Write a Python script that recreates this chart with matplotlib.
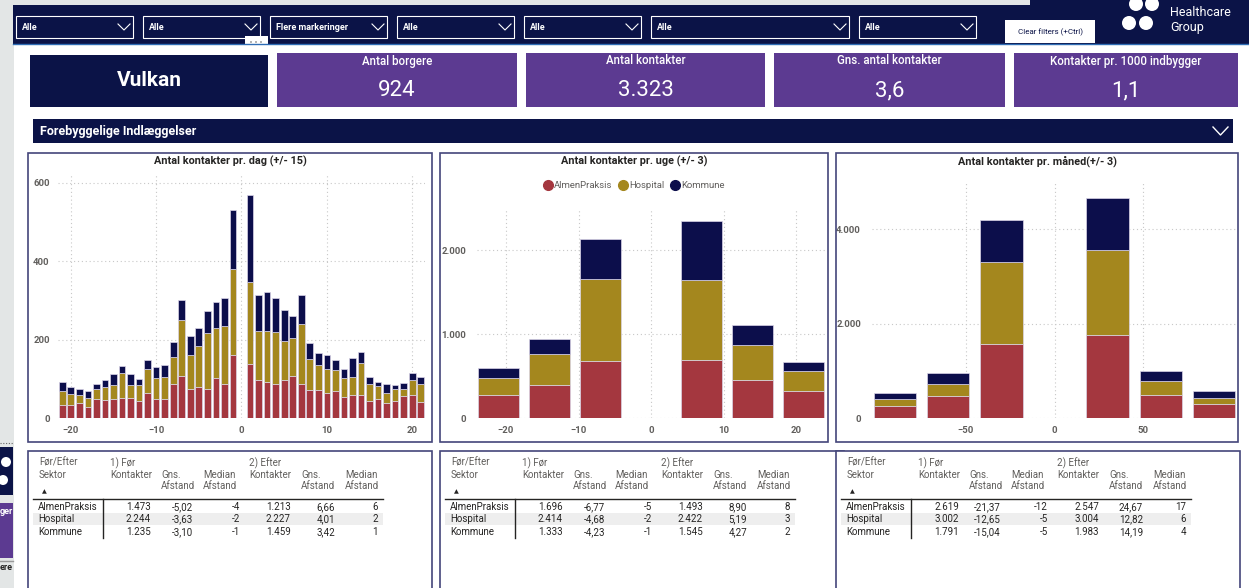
import numpy as np
import matplotlib
matplotlib.use("Agg")
import matplotlib.pyplot as plt
from matplotlib import font_manager
from matplotlib.patches import Rectangle, Ellipse
from matplotlib.lines import Line2D
from matplotlib.ticker import FuncFormatter

# --- data ---
SECTORS = ["AlmenPraksis", "Hospital", "Kommune"]

DAY_X = list(range(-21, 0)) + list(range(1, 22))
DAY_ALMEN = [34, 33, 38, 29, 48, 45, 48, 51, 51, 44, 65, 48, 48, 86, 107, 75, 80, 75, 103, 86, 160,
             138, 98, 91, 86, 96, 106, 86, 72, 72, 65, 68, 53, 59, 59, 43, 48, 38, 43, 55, 59, 41]
DAY_HOSPITAL = [36, 29, 21, 21, 27, 33, 37, 64, 34, 40, 60, 54, 57, 70, 143, 87, 103, 143, 127, 148, 220,
                210, 125, 132, 133, 100, 97, 154, 78, 63, 60, 54, 50, 46, 82, 44, 34, 26, 31, 20, 37, 46]
DAY_KOMMUNE = [21, 16, 16, 18, 13, 19, 27, 17, 26, 16, 22, 27, 31, 37, 51, 47, 47, 55, 65, 73, 151,
               221, 91, 99, 87, 79, 58, 74, 41, 30, 37, 26, 23, 47, 27, 17, 11, 22, 11, 14, 18, 18]

WEEK_X = [-21, -14, -7, 7, 14, 21]
WEEK_ALMEN = [269, 392, 677, 689, 448, 321]
WEEK_HOSPITAL = [206, 376, 978, 959, 427, 241]
WEEK_KOMMUNE = [127, 175, 484, 701, 230, 107]

MONTH_X = [-90, -60, -30, 30, 60, 90]
MONTH_ALMEN = [261, 459, 1559, 1750, 487, 296]
MONTH_HOSPITAL = [148, 261, 1736, 1799, 289, 127]
MONTH_KOMMUNE = [120, 232, 903, 1121, 212, 141]

KPI_TITLES = ["Antal borgere", "Antal kontakter", "Gns. antal kontakter", "Kontakter pr. 1000 indbygger"]
KPI_VALUES = ["924", "3.323", "3,6", "1,1"]
FILTER_VALUES = ["Alle", "Alle", "Flere markeringer", "Alle", "Alle", "Alle", "Alle"]

DAY_BEFORE_COUNT = [1473, 2244, 1235]
DAY_BEFORE_MEAN = [-5.02, -3.63, -3.10]
DAY_BEFORE_MEDIAN = [-4, -2, -1]
DAY_AFTER_COUNT = [1213, 2227, 1459]
DAY_AFTER_MEAN = [6.66, 4.01, 3.42]
DAY_AFTER_MEDIAN = [6, 2, 1]

WEEK_BEFORE_COUNT = [1696, 2414, 1333]
WEEK_BEFORE_MEAN = [-6.77, -4.68, -4.23]
WEEK_BEFORE_MEDIAN = [-5, -2, -1]
WEEK_AFTER_COUNT = [1493, 2422, 1545]
WEEK_AFTER_MEAN = [8.90, 5.19, 4.27]
WEEK_AFTER_MEDIAN = [8, 3, 2]

MONTH_BEFORE_COUNT = [2619, 3002, 1791]
MONTH_BEFORE_MEAN = [-21.37, -12.65, -15.04]
MONTH_BEFORE_MEDIAN = [-12, -5, -5]
MONTH_AFTER_COUNT = [2547, 3004, 1983]
MONTH_AFTER_MEAN = [24.67, 12.82, 14.19]
MONTH_AFTER_MEDIAN = [17, 6, 4]

# --- styling ---
W, H = 1249, 588
COLORS = ["#A4373F", "#A4871E", "#0C0E4B"]
NAVY = "#0B1347"
PURPLE = "#5C3A91"
GRAY_TEXT = "#605E5C"
DARK_TEXT = "#252423"

_names = {f.name for f in font_manager.fontManager.ttflist}
FONT = "Roboto" if "Roboto" in _names else "DejaVu Sans"
NARROW = "Liberation Sans Narrow" if "Liberation Sans Narrow" in _names else FONT
plt.rcParams["font.family"] = [FONT, "DejaVu Sans"]


def dk(v, dec=0):
    """Danish number format: 1.234,56"""
    s = f"{v:,.{dec}f}"
    return s.replace(",", "X").replace(".", ",").replace("X", ".")


def box(fig, x0, y0, x1, y1, **kw):
    fig.add_artist(Rectangle((x0 / W, 1 - y1 / H), (x1 - x0) / W, (y1 - y0) / H,
                             transform=fig.transFigure, **kw))


def txt(fig, x, y, s, **kw):
    kw.setdefault("va", "center")
    fig.text(x / W, 1 - y / H, s, **kw)


def line(fig, xs, ys, **kw):
    fig.add_artist(Line2D([x / W for x in xs], [1 - y / H for y in ys],
                          transform=fig.transFigure, **kw))


def dot(fig, x, y, d, color):
    fig.add_artist(Ellipse((x / W, 1 - y / H), d / W, d / H, transform=fig.transFigure,
                           color=color, lw=0))


def draw_header(fig):
    """Top filter bar, logo and KPI cards."""
    box(fig, 0, 0, 14, H, color="#E3E6E6", lw=0)
    box(fig, 0, 0, 1030, 5, color="#E3E6E6", lw=0)
    box(fig, 13, 5, W, 44, color=NAVY, lw=0)
    box(fig, 1030, 0, W, 5, color=NAVY, lw=0)
    line(fig, [13, W], [44, 44], color="#2F6DB5", lw=1)

    spans = [(16, 133), (143, 260), (270, 387), (397, 514), (524, 641), (651, 849), (859, 976)]
    for (x0, x1), val in zip(spans, FILTER_VALUES):
        box(fig, x0, 16, x1, 38, facecolor=NAVY, edgecolor="white", lw=0.8)
        txt(fig, x0 + 6, 27, val, color="white", fontsize=6.5, fontweight="bold")
        line(fig, [x1 - 15, x1 - 9, x1 - 3], [24, 30, 24], color="white", lw=0.8)
    box(fig, 245, 36, 268, 46, color="white", lw=0)
    for dx in (251, 256, 261):
        dot(fig, dx, 42, 1.8, "#8A8A8A")

    box(fig, 1005, 20, 1095, 43, color="white", lw=0)
    txt(fig, 1050, 32, "Clear filters (+Ctrl)", color=NAVY, fontsize=5.8, ha="center")

    for cx, cy in [(1136, 4), (1152, 4), (1129, 23), (1146, 23)]:
        dot(fig, cx, cy, 14, "white")
    txt(fig, 1170, 13, "Healthcare", color="white", fontsize=9)
    txt(fig, 1170, 27, "Group", color="white", fontsize=9)

    box(fig, 30, 55, 268, 107, color=NAVY, lw=0)
    txt(fig, 149, 81, "Vulkan", color="white", fontsize=15, fontweight="bold", ha="center")
    cards = [(277, 517), (526, 765), (774, 1005), (1014, 1238)]
    for (x0, x1), title, val in zip(cards, KPI_TITLES, KPI_VALUES):
        box(fig, x0, 53, x1, 107, color=PURPLE, lw=0)
        cx = (x0 + x1) / 2
        txt(fig, cx, 61, title, color="white", fontsize=8.3, ha="center", family=NARROW,
            fontweight="medium")
        txt(fig, cx, 91, val, color="white", fontsize=16, ha="center", family=NARROW)

    box(fig, 33, 119, 1233, 143, color=NAVY, lw=0)
    txt(fig, 40, 131, "Forebyggelige Indlæggelser", color="white", fontsize=9, fontweight="bold")
    line(fig, [1213, 1220.5, 1228], [127, 135, 127], color="white", lw=1)

    # cut-off visual at the left edge
    box(fig, 0, 447, 13, 495, color=NAVY, lw=0)
    dot(fig, 6, 462, 10, "white")
    dot(fig, 3, 480, 10, "white")
    box(fig, 0, 503, 13, 558, color=PURPLE, lw=0)
    txt(fig, 13, 512, "ger", color="white", fontsize=6.5, fontweight="bold", ha="right")
    line(fig, [0, 13], [561, 561], color="#999999", lw=1)
    txt(fig, 13, 567, "ere", color=DARK_TEXT, fontsize=6.5, fontweight="bold", ha="right")
    line(fig, [0, 13], [443, 443], color="#666666", lw=0.8, linestyle=(0, (1, 1.5)))


def stacked_chart(fig, panel, rect, title, x, series, width, xlim, ylim, xticks, yticks, ypad):
    """Panel with a stacked bar chart, axes placed in pixel coordinates."""
    px0, py0, px1, py1 = panel
    box(fig, px0, py0, px1, py1, facecolor="none", edgecolor="#44467A", lw=1.2)
    txt(fig, (px0 + px1) / 2, 161, title, color=DARK_TEXT, fontsize=7.8,
        fontweight="bold", ha="center")

    x0, y0, x1, y1 = rect
    ax = fig.add_axes([x0 / W, 1 - y1 / H, (x1 - x0) / W, (y1 - y0) / H])
    bottom = np.zeros(len(x))
    for vals, color in zip(series, COLORS):
        ax.bar(x, vals, width, bottom=bottom, color=color, edgecolor="#DAD5E8", linewidth=0.5)
        bottom += np.array(vals)
    ax.set_xlim(*xlim)
    ax.set_ylim(*ylim)
    ax.set_xticks(xticks)
    ax.set_yticks(yticks)
    ax.yaxis.set_major_formatter(FuncFormatter(lambda v, p: dk(v)))
    ax.grid(color="#C8C8C8", linestyle=(0, (1, 2.5)), linewidth=0.8)
    ax.set_axisbelow(True)
    for s in ax.spines.values():
        s.set_visible(False)
    ax.tick_params(length=0, labelsize=6.8, labelcolor=GRAY_TEXT)
    ax.tick_params(axis="y", pad=ypad)
    ax.tick_params(axis="x", pad=6)
    for lbl in ax.get_xticklabels() + ax.get_yticklabels():
        lbl.set_fontweight("bold")
    return ax


def draw_table(fig, left, cols):
    """Before/after summary table below each chart."""
    box(fig, left, 451, left + 404, 600, facecolor="white", edgecolor="#44467A", lw=1.2)
    fs = 7.0
    hdr = dict(color=GRAY_TEXT, fontsize=fs)
    txt(fig, left + 11, 463, "Før/Efter", **hdr)
    txt(fig, left + 11, 475, "Sektor", **hdr)
    txt(fig, left + 14, 492, "▲", color=DARK_TEXT, fontsize=4.5, family="DejaVu Sans")
    txt(fig, left + 82, 463, "1) Før", **hdr)
    txt(fig, left + 82, 475, "Kontakter", **hdr)
    txt(fig, left + 221, 463, "2) Efter", **hdr)
    txt(fig, left + 221, 475, "Kontakter", **hdr)
    for off, name in [(133, "Gns."), (175, "Median"), (273, "Gns."), (317, "Median")]:
        txt(fig, left + off, 475, name, **hdr)
        txt(fig, left + off, 486, "Afstand", **hdr)

    box(fig, left + 5, 513, left + 355, 525, color="#EEEEEE", lw=0)
    line(fig, [left + 5, left + 355], [499, 499], color=DARK_TEXT, lw=1)
    line(fig, [left + 75, left + 75], [499, 538], color=DARK_TEXT, lw=1)

    rights = [123, 165, 212, 263, 307, 350]
    decs = [0, 2, 0, 0, 2, 0]
    for i, (sector, ry) in enumerate(zip(SECTORS, [507, 519, 532])):
        txt(fig, left + 10, ry, sector, color=DARK_TEXT, fontsize=fs)
        for col, r, d in zip(cols, rights, decs):
            txt(fig, left + r, ry, dk(col[i], d), color=DARK_TEXT, fontsize=fs, ha="right")


def main():
    fig = plt.figure(figsize=(W / 100, H / 100), dpi=100)
    fig.patch.set_facecolor("white")
    draw_header(fig)

    stacked_chart(fig, (28, 153, 432, 442), (58, 175, 425, 418),
                  "Antal kontakter pr. dag (+/- 15)", DAY_X,
                  [DAY_ALMEN, DAY_HOSPITAL, DAY_KOMMUNE], 0.78, (-21.5, 21.5), (0, 620),
                  [-20, -10, 0, 10, 20], [0, 200, 400, 600], 6)

    ax = stacked_chart(fig, (440, 153, 828, 442), (477, 210, 825, 418),
                       "Antal kontakter pr. uge (+/- 3)", WEEK_X,
                       [WEEK_ALMEN, WEEK_HOSPITAL, WEEK_KOMMUNE], 5.6, (-24, 24), (0, 2480),
                       [-20, -10, 0, 10, 20], [0, 1000, 2000], 8)
    handles = [Line2D([], [], marker="o", linestyle="none", markersize=7, color=c) for c in COLORS]
    leg = ax.legend(handles, SECTORS, loc="center", ncol=3, frameon=False,
                    bbox_to_anchor=(634 / W, 1 - 186 / H), bbox_transform=fig.transFigure,
                    fontsize=6.8, handletextpad=0.15, columnspacing=0.6, handlelength=1.0)
    for t in leg.get_texts():
        t.set_color(GRAY_TEXT)

    stacked_chart(fig, (836, 153, 1238, 442), (872, 182, 1237, 418),
                  "Antal kontakter pr. måned(+/- 3)", MONTH_X,
                  [MONTH_ALMEN, MONTH_HOSPITAL, MONTH_KOMMUNE], 24, (-103, 103), (0, 5000),
                  [-50, 0, 50], [0, 2000, 4000], 8)

    draw_table(fig, 28, [DAY_BEFORE_COUNT, DAY_BEFORE_MEAN, DAY_BEFORE_MEDIAN,
                         DAY_AFTER_COUNT, DAY_AFTER_MEAN, DAY_AFTER_MEDIAN])
    draw_table(fig, 440, [WEEK_BEFORE_COUNT, WEEK_BEFORE_MEAN, WEEK_BEFORE_MEDIAN,
                          WEEK_AFTER_COUNT, WEEK_AFTER_MEAN, WEEK_AFTER_MEDIAN])
    draw_table(fig, 836, [MONTH_BEFORE_COUNT, MONTH_BEFORE_MEAN, MONTH_BEFORE_MEDIAN,
                          MONTH_AFTER_COUNT, MONTH_AFTER_MEAN, MONTH_AFTER_MEDIAN])

    fig.savefig("out.png", dpi=100)


if __name__ == "__main__":
    main()
